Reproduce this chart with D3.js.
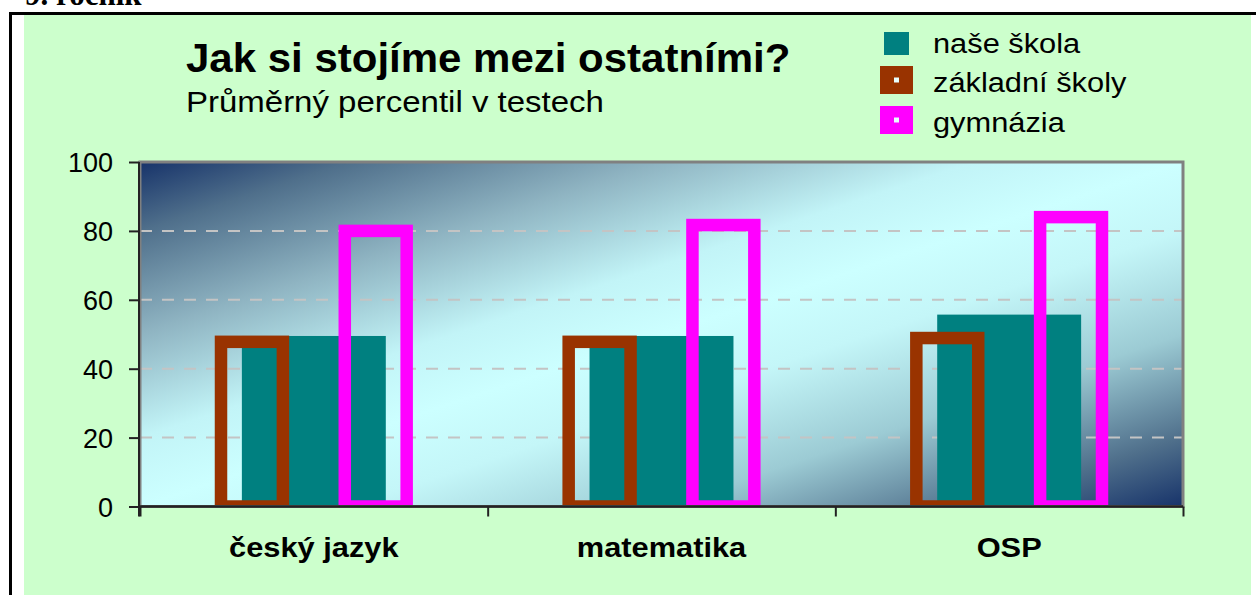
<!DOCTYPE html>
<html>
<head>
<meta charset="utf-8">
<script src="https://cdn.jsdelivr.net/npm/d3@7"></script>
<style>
  html, body { margin: 0; padding: 0; background: #ffffff; overflow: hidden; }
  svg { display: block; }
  text { font-family: "Liberation Sans", Arial, sans-serif; fill: #000; }
</style>
</head>
<body>
<div id="chart"></div>
<script>
// values
const categories = ["český jazyk", "matematika", "OSP"];
const seriesNames = ["naše škola", "základní školy", "gymnázia"];
const naseSkola = [49.5, 49.5, 55.7];
const zakladniSkoly = [47.8, 47.8, 48.9];
const gymnazia = [80.0, 81.7, 84.0];
const yTicks = [0, 20, 40, 60, 80, 100];
const gridTicks = [20, 40, 60, 80];

const colors = {
  "naše škola": "#008080",
  "základní školy": "#993300",
  "gymnázia": "#ff00ff"
};

const W = 1256, H = 595;
const plot = { left: 140, right: 1183, top: 162, bottom: 506.5 };

const svg = d3.select("#chart").append("svg")
  .attr("width", W)
  .attr("height", H);

// page frame
svg.append("rect").attr("x", 24).attr("y", 15).attr("width", 1227).attr("height", H - 15)
  .attr("fill", "#ccffcc");
svg.append("path")
  .attr("d", `M10.5,${H} V13.5 H${W}`)
  .attr("fill", "none").attr("stroke", "#000").attr("stroke-width", 3);

function stretchedText(x, y, str, size, sx, opts = {}) {
  const t = svg.append("text")
    .attr("transform", `translate(${x},${y}) scale(${sx},1)`)
    .attr("font-size", size)
    .attr("font-weight", opts.bold ? "bold" : "normal")
    .attr("text-anchor", opts.anchor || "start")
    .text(str);
  if (opts.family) t.style("font-family", opts.family);
  return t;
}

// page heading, cut by the top edge as in the scan
stretchedText(25, 5, "9. ročník", 31, 1, { bold: true, family: "'Liberation Serif', 'Times New Roman', serif" });

// titles
stretchedText(186, 72, "Jak si stojíme mezi ostatními?", 40, 1.05, { bold: true });
stretchedText(186, 111.5, "Průměrný percentil v testech", 30, 1.1);

// scales
const x = d3.scaleBand().domain(categories).range([plot.left, plot.right]);
const y = d3.scaleLinear().domain([0, 100]).range([plot.bottom, plot.top]);

// plot background gradient
const defs = svg.append("defs");
const grad = defs.append("linearGradient").attr("id", "bg")
  .attr("x1", 0).attr("y1", 0).attr("x2", 1).attr("y2", 1);
[[0, "#17336a"], [0.1, "#4f6f8b"], [0.25, "#8fb4c2"], [0.4, "#c2f4f7"], [0.5, "#ccffff"],
 [0.6, "#c4f6f8"], [0.75, "#9ccbd4"], [0.9, "#4f6f8b"], [1, "#17336a"]]
  .forEach(([o, c]) => grad.append("stop").attr("offset", o).attr("stop-color", c));

defs.append("clipPath").attr("id", "plotClip").append("rect")
  .attr("x", plot.left).attr("y", plot.top)
  .attr("width", plot.right - plot.left).attr("height", plot.bottom - plot.top);

svg.append("rect")
  .attr("x", plot.left).attr("y", plot.top)
  .attr("width", plot.right - plot.left).attr("height", plot.bottom - plot.top)
  .attr("fill", "url(#bg)");

// grid
svg.append("g").selectAll("line").data(gridTicks).join("line")
  .attr("x1", plot.left).attr("x2", plot.right)
  .attr("y1", d => y(d)).attr("y2", d => y(d))
  .attr("stroke", "#c4c4c4").attr("stroke-width", 2)
  .attr("stroke-dasharray", "12,10");

// bars
const bw = x.bandwidth();
const bars = svg.append("g").attr("clip-path", "url(#plotClip)");

bars.selectAll(".nase").data(naseSkola).join("rect")
  .attr("class", "nase")
  .attr("x", (d, i) => x(categories[i]) + bw * 0.293)
  .attr("width", bw * 0.414)
  .attr("y", d => y(d))
  .attr("height", d => y(0) - y(d))
  .attr("fill", colors["naše škola"]);

function outlineBars(values, offset, color) {
  bars.append("g").selectAll("rect").data(values).join("rect")
    .attr("x", (d, i) => x(categories[i]) + bw * offset)
    .attr("width", bw * 0.178)
    .attr("y", d => y(d))
    .attr("height", d => y(0) - y(d))
    .attr("fill", "none")
    .attr("stroke", color)
    .attr("stroke-width", 12.5);
}
outlineBars(zakladniSkoly, 0.233, colors["základní školy"]);
outlineBars(gymnazia, 0.589, colors["gymnázia"]);

// plot border
svg.append("rect")
  .attr("x", plot.left).attr("y", plot.top)
  .attr("width", plot.right - plot.left).attr("height", plot.bottom - plot.top)
  .attr("fill", "none").attr("stroke", "#808080").attr("stroke-width", 3);

// y axis
const yAxis = svg.append("g")
  .attr("transform", `translate(${plot.left - 1},0)`)
  .call(d3.axisLeft(y).tickValues(yTicks).tickSize(10).tickPadding(16));
yAxis.select(".domain").attr("stroke", "#222").attr("stroke-width", 2)
  .attr("d", `M0,${plot.top} V${plot.bottom + 10}`);
yAxis.selectAll(".tick line").attr("stroke", "#222").attr("stroke-width", 2);
yAxis.selectAll(".tick text")
  .attr("font-size", 27).attr("fill", "#000")
  .attr("dy", "0.36em");

// x axis with ticks at category boundaries
const xb = d3.scaleLinear().domain([0, categories.length]).range([plot.left, plot.right]);
const xAxis = svg.append("g")
  .attr("transform", `translate(0,${plot.bottom})`)
  .call(d3.axisBottom(xb).ticks(categories.length).tickSize(10).tickFormat(""));
xAxis.select(".domain").attr("stroke", "#222").attr("stroke-width", 2.5)
  .attr("d", `M${plot.left},0 H${plot.right}`);
xAxis.selectAll(".tick line").attr("stroke", "#222").attr("stroke-width", 2);

categories.forEach(c => {
  stretchedText(x(c) + bw / 2, 557, c, 28, 1.1, { bold: true, anchor: "middle" });
});

// legend
const legendX = 896.5, legendY = [43.5, 80, 120];
const textY = [53, 92, 132];
seriesNames.forEach((s, i) => {
  if (i === 0) {
    svg.append("rect").attr("x", legendX - 12.5).attr("y", legendY[i] - 11.5)
      .attr("width", 25).attr("height", 23).attr("fill", colors[s]);
  } else {
    svg.append("rect").attr("x", legendX - 16.5).attr("y", legendY[i] - 14)
      .attr("width", 33).attr("height", 28).attr("fill", colors[s]);
    svg.append("rect").attr("x", legendX - 2.5).attr("y", legendY[i] - 2.5)
      .attr("width", 5).attr("height", 5).attr("fill", "#e8ffff");
  }
  stretchedText(933, textY[i], s, 28, 1.1);
});
</script>
</body>
</html>
